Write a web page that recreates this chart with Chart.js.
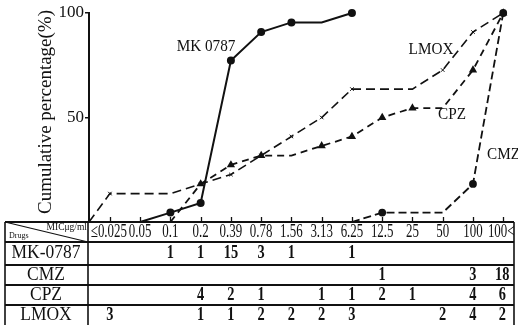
<!DOCTYPE html>
<html>
<head>
<meta charset="utf-8">
<script src="https://cdn.jsdelivr.net/npm/chart.js@4/dist/chart.umd.min.js"></script>
<style>
html, body { margin: 0; padding: 0; background: #fff; }
canvas { display: block; }
</style>
</head>
<body>
<canvas id="mic-chart" width="518" height="325"></canvas>
<script>
// MIC columns (µg/ml)
const mic_labels = ["≤0.025", "0.05", "0.1", "0.2", "0.39", "0.78", "1.56", "3.13", "6.25", "12.5", "25", "50", "100", "100<"];
const drug_names = ["MK-0787", "CMZ", "CPZ", "LMOX"];

// number of strains at each MIC (table rows)
const mk_counts   = [0, 0, 1, 1, 15, 3, 1, 0, 1, 0, 0, 0, 0, 0];
const cmz_counts  = [0, 0, 0, 0, 0, 0, 0, 0, 0, 1, 0, 0, 3, 18];
const cpz_counts  = [0, 0, 0, 4, 2, 1, 0, 1, 1, 2, 1, 0, 4, 6];
const lmox_counts = [3, 0, 0, 1, 1, 2, 2, 2, 3, 0, 0, 2, 4, 2];

// cumulative percentage curves (null = not drawn)
const mk_pct   = [null, 0, 4.5, 9.1, 77.3, 90.9, 95.5, 95.5, 100, null, null, null, null, null];
const cmz_pct  = [null, null, null, null, null, null, null, null, 0, 4.5, 4.5, 4.5, 18.2, 100];
const cpz_pct  = [null, null, 0, 18.2, 27.3, 31.8, 31.8, 36.4, 40.9, 50, 54.5, 54.5, 72.7, 100];
const lmox_start = 0; // LMOX curve starts at the origin
const lmox_pct = [13.6, 13.6, 13.6, 18.2, 22.7, 31.8, 40.9, 50, 63.6, 63.6, 63.6, 72.7, 90.9, 100];

const y_ticks = [50, 100];

const x_min = -0.69;
const x_max = 13.29;
const serif = '"Liberation Serif", "DejaVu Serif", serif';

function to_points(pct) {
    let pts = [];
    pct.forEach((v, i) => { if (v !== null) pts.push({ x: i, y: v }); });
    return pts;
}

function marker_radius(counts, r) {
    return (c) => {
        let i = c.raw ? c.raw.x : -1;
        return (Number.isInteger(i) && counts[i] > 0) ? r : 0;
    };
}

function txt(ctx, s, x, y, font, align, sx) {
    ctx.save();
    ctx.font = font;
    ctx.textBaseline = "middle";
    ctx.textAlign = align || "center";
    ctx.translate(x, y);
    ctx.scale(sx || 1, 1);
    ctx.fillText(s, 0, 0);
    ctx.restore();
}

const table_plugin = {
    id: "mic_table",
    afterDraw(chart) {
        const ctx = chart.ctx;
        const xs = chart.scales.x;
        const area = chart.chartArea;
        ctx.save();
        ctx.fillStyle = "#111";
        ctx.strokeStyle = "#111";

        // x tick marks pointing up from the baseline
        ctx.lineWidth = 1.3;
        for (let i = 0; i < mic_labels.length; i++) {
            let px = Math.round(xs.getPixelForValue(i)) + 0.5;
            ctx.beginPath();
            ctx.moveTo(px, area.bottom);
            ctx.lineTo(px, area.bottom - 5);
            ctx.stroke();
        }

        // table grid
        const left = 5, right = 514, div = 88;
        const lines = [222, 242, 265, 285, 305];
        ctx.lineWidth = 2;
        lines.forEach((y) => {
            ctx.beginPath();
            ctx.moveTo(left, y);
            ctx.lineTo(right, y);
            ctx.stroke();
        });
        ctx.lineWidth = 1.6;
        [left, div, right].forEach((x) => {
            ctx.beginPath();
            ctx.moveTo(x, lines[0]);
            ctx.lineTo(x, 325);
            ctx.stroke();
        });
        // diagonal in the corner cell
        ctx.lineWidth = 1.2;
        ctx.beginPath();
        ctx.moveTo(left, lines[0]);
        ctx.lineTo(div, lines[1]);
        ctx.stroke();
        txt(ctx, "MICμg/ml", 87, 227.5, "10px " + serif, "right", 0.95);
        txt(ctx, "Drugs", 9, 236, "8px " + serif, "left", 1);

        // header labels
        mic_labels.forEach((lab, i) => {
            let px = xs.getPixelForValue(i);
            if (i === 0) px -= 1;
            if (i === mic_labels.length - 1) px -= 2;
            txt(ctx, lab, px, 232.5, "19px " + serif, "center", 0.68);
        });

        // rows
        const row_mid = [253.5, 275, 295, 315];
        const row_counts = [mk_counts, cmz_counts, cpz_counts, lmox_counts];
        drug_names.forEach((name, r) => {
            txt(ctx, name, 46, row_mid[r], "19px " + serif, "center", 0.92);
            row_counts[r].forEach((n, i) => {
                if (n > 0) {
                    let px = xs.getPixelForValue(i);
                    if (i === mic_labels.length - 1) px -= 1;
                    txt(ctx, String(n), px, row_mid[r], "bold 18px " + serif, "center", 0.8);
                }
            });
        });

        // curve labels
        txt(ctx, "MK 0787", 206, 47, "16px " + serif, "center", 0.95);
        txt(ctx, "LMOX", 431, 50, "16px " + serif, "center", 0.95);
        txt(ctx, "CPZ", 452, 115, "16px " + serif, "center", 0.95);
        txt(ctx, "CMZ", 487, 155, "16px " + serif, "left", 0.95);

        // y axis title
        ctx.save();
        ctx.translate(46, 112);
        ctx.rotate(-Math.PI / 2);
        ctx.font = "18px " + serif;
        let w = ctx.measureText("Cumulative percentage(%)").width;
        ctx.scale(204 / w, 1);
        ctx.textAlign = "center";
        ctx.textBaseline = "middle";
        ctx.fillText("Cumulative percentage(%)", 0, 0);
        ctx.restore();

        ctx.restore();
    }
};

const ctx = document.getElementById("mic-chart").getContext("2d");

const line_base = {
    borderColor: "#111",
    backgroundColor: "#111",
    pointBorderColor: "#111",
    pointBackgroundColor: "#111",
    tension: 0,
    clip: false,
    fill: false,
};

const my_chart = new Chart(ctx, {
    type: "line",
    data: {
        datasets: [
            Object.assign({}, line_base, {
                label: "MK-0787",
                data: to_points(mk_pct),
                borderWidth: 2,
                pointStyle: "circle",
                pointRadius: marker_radius(mk_counts, 3),
            }),
            Object.assign({}, line_base, {
                label: "CMZ",
                data: to_points(cmz_pct),
                borderWidth: 1.8,
                borderDash: [8, 4],
                pointStyle: "circle",
                pointRadius: marker_radius(cmz_counts, 3),
            }),
            Object.assign({}, line_base, {
                label: "CPZ",
                data: to_points(cpz_pct),
                borderWidth: 1.8,
                borderDash: [7, 5],
                pointStyle: "triangle",
                pointRadius: marker_radius(cpz_counts, 3),
            }),
            Object.assign({}, line_base, {
                label: "LMOX",
                data: [{ x: x_min, y: lmox_start }].concat(to_points(lmox_pct)),
                borderWidth: 1.6,
                borderDash: [9, 5],
                pointStyle: "crossRot",
                pointBorderWidth: 1,
                pointRadius: marker_radius(lmox_counts, 2.5),
            }),
        ]
    },
    options: {
        responsive: false,
        animation: false,
        layout: { padding: { top: 13, bottom: 103, left: 0, right: 4 } },
        plugins: {
            legend: { display: false },
            tooltip: { enabled: false },
        },
        scales: {
            x: {
                type: "linear",
                display: false,
                min: x_min,
                max: x_max,
            },
            y: {
                type: "linear",
                min: 0,
                max: 100,
                afterBuildTicks: (scale) => {
                    scale.ticks = y_ticks.map((v) => ({ value: v }));
                },
                afterFit: (scale) => { scale.width = 89; },
                grid: {
                    drawOnChartArea: false,
                    drawTicks: true,
                    tickLength: 4,
                    color: "#111",
                    lineWidth: 1.5,
                },
                border: { display: true, color: "#111", width: 2 },
                ticks: {
                    color: "#111",
                    padding: 1,
                    font: { family: serif, size: 17 },
                },
            },
        },
    },
    plugins: [table_plugin],
});
</script>
</body>
</html>
